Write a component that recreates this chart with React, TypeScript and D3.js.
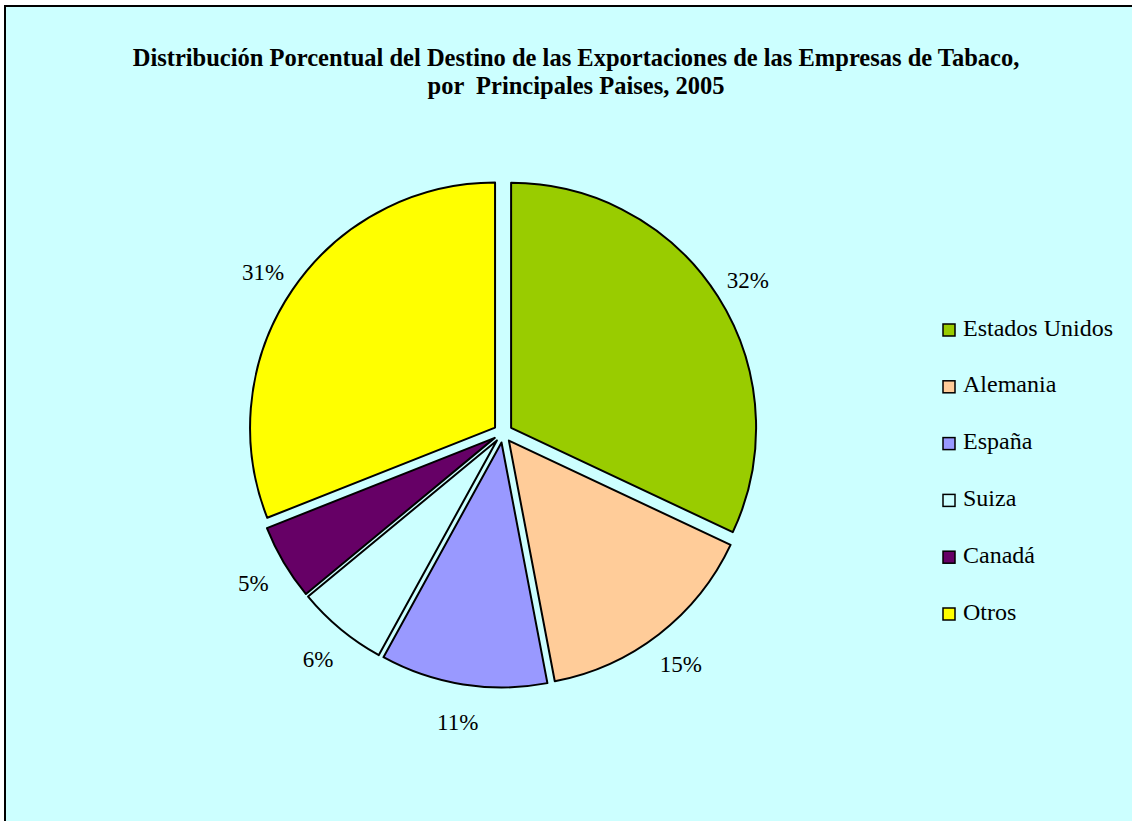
import React from "react";
import * as d3 from "d3";

const categories = ["Estados Unidos", "Alemania", "España", "Suiza", "Canadá", "Otros"];
const shares = [32, 15, 11, 6, 5, 31];
const colors = ["#99CC00", "#FFCC99", "#9999FF", "#CCFFFF", "#660066", "#FFFF00"];
const titleLines = [
  "Distribución Porcentual del Destino de las Exportaciones de las Empresas de Tabaco,",
  "por  Principales Paises, 2005",
];

const W = 1132;
const H = 821;
const cx = 503;
const cy = 433;
const radius = 245;
const explode = 9.6;
const labelRadius = 290;

const App = () => {
  const pie = d3
    .pie<number>()
    .sort(null)
    .value((d) => d);
  const arcs = pie(shares);
  const arc = d3.arc<d3.PieArcDatum<number>>().innerRadius(0).outerRadius(radius);
  const labelArc = d3
    .arc<d3.PieArcDatum<number>>()
    .innerRadius(labelRadius)
    .outerRadius(labelRadius);

  const legendY = d3
    .scalePoint<string>()
    .domain(categories)
    .range([330, 614]);

  return (
    <svg
      width={W}
      height={H}
      style={{ position: "fixed", left: 0, top: 0, display: "block" }}
      fontFamily="'Liberation Serif', 'Times New Roman', serif"
    >
      <rect x={0} y={0} width={W} height={H} fill="#ffffff" />
      <rect x={5} y={6} width={W + 20} height={H + 20} fill="#CCFFFF" stroke="#000" strokeWidth={2} />

      {titleLines.map((t, i) => (
        <text
          key={i}
          x={576}
          y={66 + i * 28}
          textAnchor="middle"
          fontWeight="bold"
          fontSize={24.5}
          fill="#000"
          style={{ whiteSpace: "pre" }}
        >
          {t}
        </text>
      ))}

      <g transform={`translate(${cx},${cy})`}>
        {arcs.map((a, i) => {
          const mid = (a.startAngle + a.endAngle) / 2;
          const dx = Math.sin(mid) * explode;
          const dy = -Math.cos(mid) * explode;
          return (
            <path
              key={i}
              d={arc(a) || ""}
              transform={`translate(${dx},${dy})`}
              fill={colors[i]}
              stroke="#000"
              strokeWidth={2}
              strokeLinejoin="round"
            />
          );
        })}
        {arcs.map((a, i) => {
          const [lx, ly] = labelArc.centroid(a);
          return (
            <text
              key={"l" + i}
              x={lx}
              y={ly + 5}
              textAnchor="middle"
              dominantBaseline="middle"
              fontSize={23}
              fill="#000"
            >
              {`${shares[i]}%`}
            </text>
          );
        })}
      </g>

      <g>
        {categories.map((c, i) => {
          const y = legendY(c) as number;
          return (
            <g key={c}>
              <rect x={943} y={y - 6} width={12} height={12} fill={colors[i]} stroke="#000" strokeWidth={1.5} />
              <text x={963} y={y} dominantBaseline="middle" fontSize={24} fill="#000">
                {c}
              </text>
            </g>
          );
        })}
      </g>
    </svg>
  );
};

export default App;
